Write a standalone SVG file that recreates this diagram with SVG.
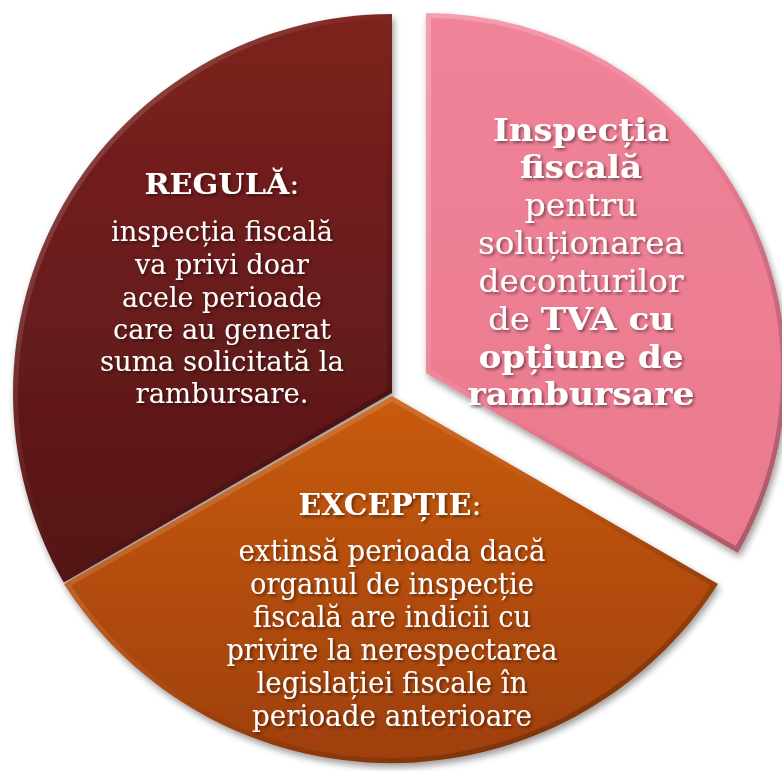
<svg xmlns="http://www.w3.org/2000/svg" width="782" height="771" viewBox="0 0 782 771">
<style>
.t{font-family:"DejaVu Serif","Liberation Serif",serif;fill:#ffffff;text-anchor:middle}
.b{font-weight:bold}
.p{font-size:32px}
.d{font-size:28px}
.h{font-size:27px}
.o{font-size:30px}
.oh{font-size:29px}
.bev{fill:none;stroke-width:10}
</style>
<defs>
<linearGradient id="gRed" x1="0" y1="0" x2="0" y2="1">
<stop offset="0" stop-color="#7d221e"/>
<stop offset="1" stop-color="#541517"/>
</linearGradient>
<linearGradient id="gOrange" x1="0" y1="0" x2="0" y2="1">
<stop offset="0" stop-color="#c95b10"/>
<stop offset="1" stop-color="#9e3f09"/>
</linearGradient>
<linearGradient id="gPink" x1="0" y1="0" x2="0" y2="1">
<stop offset="0" stop-color="#f08398"/>
<stop offset="1" stop-color="#ea7a8e"/>
</linearGradient>
<linearGradient id="gBevel" x1="0" y1="0" x2="1" y2="1">
<stop offset="0" stop-color="#ffffff" stop-opacity="0.25"/>
<stop offset="0.45" stop-color="#ffffff" stop-opacity="0.04"/>
<stop offset="0.55" stop-color="#000000" stop-opacity="0.04"/>
<stop offset="1" stop-color="#000000" stop-opacity="0.3"/>
</linearGradient>
<filter id="shadow" x="-10%" y="-10%" width="120%" height="120%">
<feGaussianBlur in="SourceAlpha" stdDeviation="3.5"/>
<feOffset dx="2" dy="4"/>
<feComponentTransfer><feFuncA type="linear" slope="0.4"/></feComponentTransfer>
<feMerge><feMergeNode/><feMergeNode in="SourceGraphic"/></feMerge>
</filter>
<filter id="tshadow" x="-10%" y="-20%" width="120%" height="140%">
<feGaussianBlur in="SourceAlpha" stdDeviation="1.5"/>
<feOffset dx="1.5" dy="2"/>
<feComponentTransfer><feFuncA type="linear" slope="0.45"/></feComponentTransfer>
<feMerge><feMergeNode/><feMergeNode in="SourceGraphic"/></feMerge>
</filter>
<path id="pRed" d="M392,393 L392,14 A379,379 0 0 0 63.8,582.5 Z"/>
<path id="pOrange" d="M392,396 L64,584 A388,388 0 0 0 718,584 Z"/>
<path id="pPink" d="M426,373 L426,13 A360,360 0 0 1 737.8,553 Z"/>
<clipPath id="cRed"><use href="#pRed"/></clipPath>
<clipPath id="cOrange"><use href="#pOrange"/></clipPath>
<clipPath id="cPink"><use href="#pPink"/></clipPath>
</defs>
<rect width="782" height="771" fill="#ffffff"/>

<g id="regula">
<use href="#pRed" fill="url(#gRed)" filter="url(#shadow)"/>
<use href="#pRed" class="bev" stroke="url(#gBevel)" clip-path="url(#cRed)"/>
<g class="t d" filter="url(#tshadow)">
<text class="h" x="222" y="194" textLength="155" lengthAdjust="spacingAndGlyphs"><tspan class="b">REGULĂ</tspan>:</text>
<text x="222" y="241" textLength="222" lengthAdjust="spacingAndGlyphs">inspecția fiscală</text>
<text x="222" y="274" textLength="174" lengthAdjust="spacingAndGlyphs">va privi doar</text>
<text x="222" y="307" textLength="200" lengthAdjust="spacingAndGlyphs">acele perioade</text>
<text x="222" y="339" textLength="218" lengthAdjust="spacingAndGlyphs">care au generat</text>
<text x="222" y="371" textLength="244" lengthAdjust="spacingAndGlyphs">suma solicitată la</text>
<text x="222" y="403" textLength="173" lengthAdjust="spacingAndGlyphs">rambursare.</text>
</g>
</g>

<g id="exceptie">
<use href="#pOrange" fill="url(#gOrange)" filter="url(#shadow)"/>
<use href="#pOrange" class="bev" stroke="url(#gBevel)" clip-path="url(#cOrange)"/>
<g class="t o" filter="url(#tshadow)">
<text class="oh" x="390" y="515" textLength="183" lengthAdjust="spacingAndGlyphs"><tspan class="b">EXCEPȚIE</tspan>:</text>
<text x="392" y="561" textLength="307" lengthAdjust="spacingAndGlyphs">extinsă perioada dacă</text>
<text x="392" y="594" textLength="284" lengthAdjust="spacingAndGlyphs">organul de inspecție</text>
<text x="392" y="627" textLength="278" lengthAdjust="spacingAndGlyphs">fiscală are indicii cu</text>
<text x="392" y="660" textLength="331" lengthAdjust="spacingAndGlyphs">privire la nerespectarea</text>
<text x="392" y="693" textLength="271" lengthAdjust="spacingAndGlyphs">legislației fiscale în</text>
<text x="392" y="726" textLength="280" lengthAdjust="spacingAndGlyphs">perioade anterioare</text>
</g>
</g>

<g id="inspectia">
<use href="#pPink" fill="url(#gPink)" filter="url(#shadow)"/>
<use href="#pPink" class="bev" stroke="url(#gBevel)" clip-path="url(#cPink)"/>
<g class="t p" filter="url(#tshadow)">
<text class="b" x="581" y="141" textLength="176" lengthAdjust="spacingAndGlyphs">Inspecția</text>
<text class="b" x="581" y="178" textLength="122" lengthAdjust="spacingAndGlyphs">fiscală</text>
<text x="581" y="216" textLength="113" lengthAdjust="spacingAndGlyphs">pentru</text>
<text x="581" y="254" textLength="206" lengthAdjust="spacingAndGlyphs">soluționarea</text>
<text x="581" y="292" textLength="205" lengthAdjust="spacingAndGlyphs">deconturilor</text>
<text x="581" y="330" textLength="186" lengthAdjust="spacingAndGlyphs">de <tspan class="b">TVA cu</tspan></text>
<text class="b" x="581" y="368" textLength="205" lengthAdjust="spacingAndGlyphs">opțiune de</text>
<text class="b" x="581" y="405" textLength="227" lengthAdjust="spacingAndGlyphs">rambursare</text>
</g>
</g>
</svg>
